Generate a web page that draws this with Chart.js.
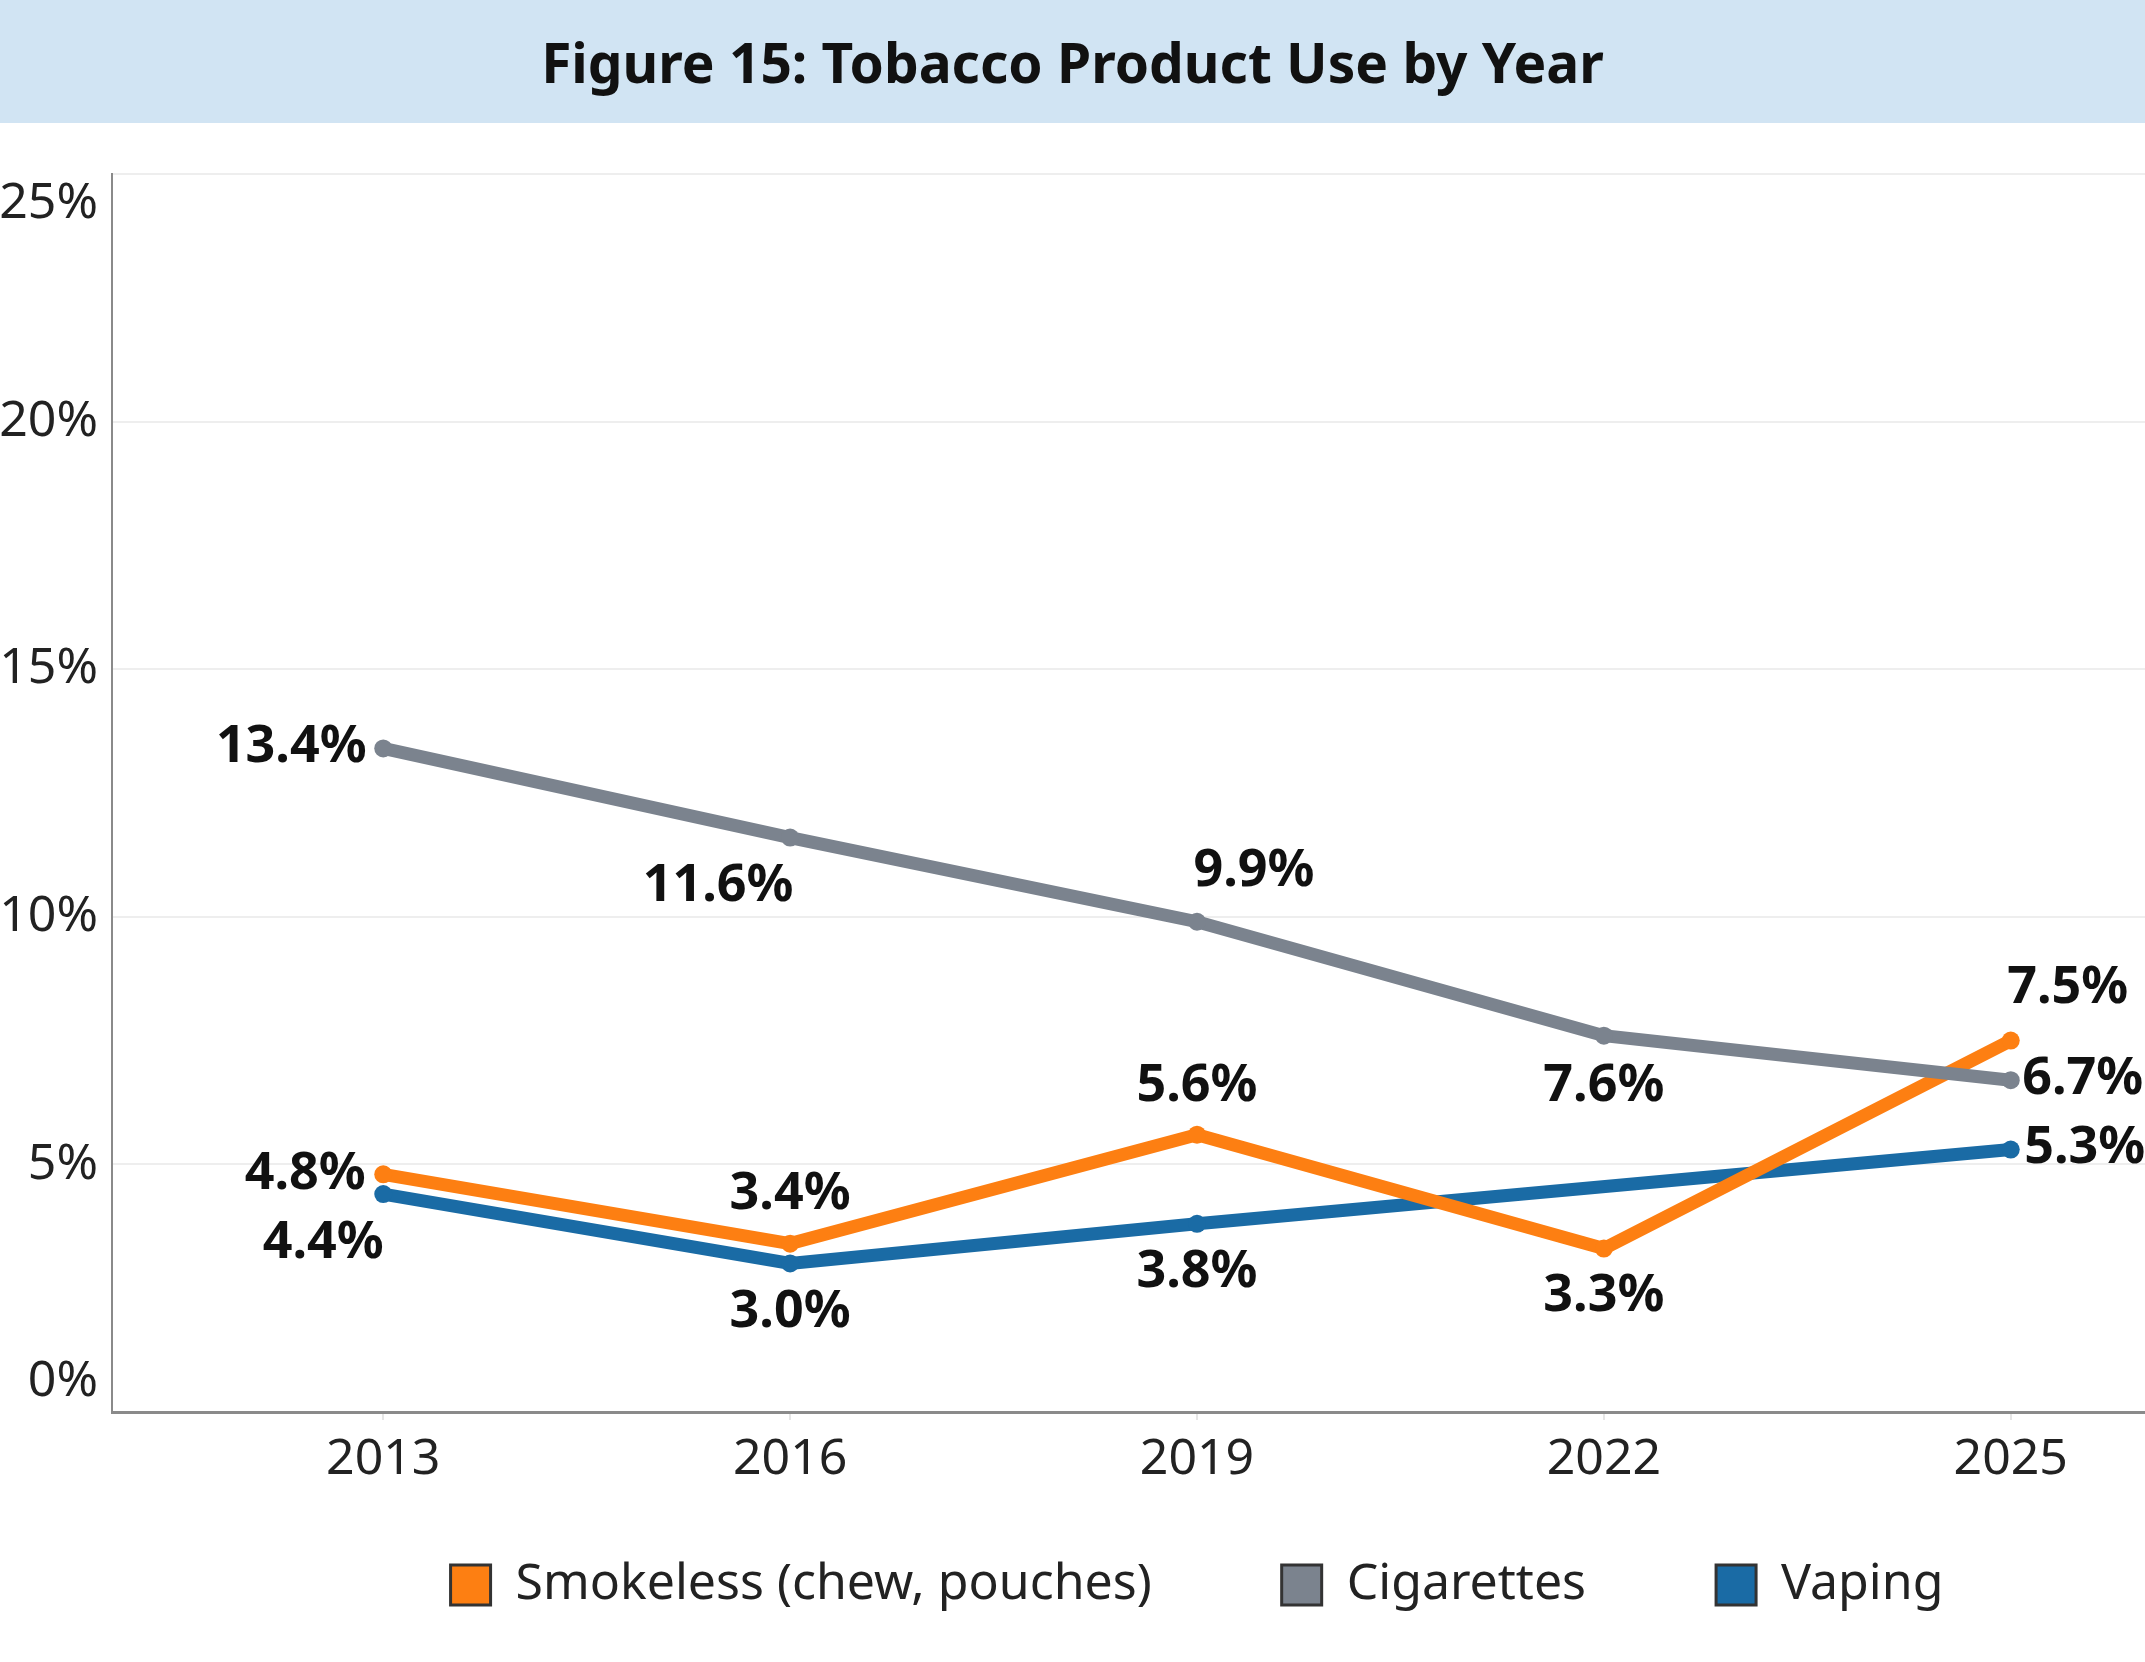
<!DOCTYPE html>
<html>
<head>
<meta charset="utf-8">
<title>Figure 15: Tobacco Product Use by Year</title>
<script src="https://cdn.jsdelivr.net/npm/chart.js@4.4.0/dist/chart.umd.min.js"></script>
<style>
  html, body { margin: 0; padding: 0; background: #fff; overflow: hidden; width: 2145px; height: 1662px; }
  .title-band {
    position: relative; z-index: 0;
    height: 123px; background: #d1e4f3;
    display: flex; align-items: center; justify-content: center;
    font-family: 'Noto Sans', sans-serif; font-weight: bold; font-size: 55px; color: #111;
  }
  /* chart is wider than the window; the right side is cropped like the original.
     It tucks a little under the title band: the top of that strip is empty canvas. */
  .chart-wrap { position: relative; z-index: 1; width: 2300px; height: 1562px; margin-top: -23px; }
</style>
</head>
<body>
<div class="title-band">Figure 15: Tobacco Product Use by Year</div>
<div class="chart-wrap"><canvas id="chart"></canvas></div>
<script>
const years = [2013, 2016, 2019, 2022, 2025];
const smokeless = [4.8, 3.4, 5.6, 3.3, 7.5];
const cigarettes = [13.4, 11.6, 9.9, 7.6, 6.7];
const vaping = [4.4, 3.0, 3.8, null, 5.3];
const yTicks = [0, 5, 10, 15, 20, 25];
const seriesNames = ['Smokeless (chew, pouches)', 'Cigarettes', 'Vaping'];

const colors = ['#fd7f12', '#7b838e', '#1a6ba5'];
// where each value label sits relative to its point (px)
const labelOffsets = [
  [[-78, 0], [0, -49], [0, -49], [0, 48], [57, -52]],
  [[-92, -1], [-72, 49], [57, -51], [0, 51], [72, -1]],
  [[-60, 49], [0, 49], [0, 48], null, [74, -1]],
];

const toPoints = vals => years.map((yr, i) => ({ x: yr, y: vals[i] }));

const valueLabels = {
  id: 'valueLabels',
  afterDatasetsDraw(chart) {
    const ctx = chart.ctx;
    ctx.save();
    ctx.font = 'bold 52px "Noto Sans"';
    ctx.fillStyle = '#111';
    ctx.textAlign = 'center';
    ctx.textBaseline = 'middle';
    chart.data.datasets.forEach((ds, di) => {
      const meta = chart.getDatasetMeta(di);
      meta.data.forEach((pt, i) => {
        const v = ds.data[i].y;
        const off = labelOffsets[di][i];
        if (v == null || !off) return;
        ctx.fillText(v.toFixed(1) + '%', pt.x + off[0], pt.y + off[1]);
      });
    });
    ctx.restore();
  }
};

// x axis is squeezed so the legend sits close; give its labels room to draw again
const xLabelRoom = {
  id: 'xLabelRoom',
  afterLayout(chart) {
    const x = chart.scales.x;
    x.bottom = x.top + 90;
  }
};

const makeDataset = (name, vals, i, order) => ({
  label: name,
  data: toPoints(vals),
  borderColor: colors[i],
  backgroundColor: colors[i],
  borderWidth: 13,
  pointRadius: 9,
  pointBorderWidth: 0,
  pointBackgroundColor: colors[i],
  spanGaps: true,
  fill: false,
  order: order,
});

const yMin = yTicks[0];
const yMax = yTicks[yTicks.length - 1];

new Chart(document.getElementById('chart'), {
  type: 'line',
  data: {
    datasets: [
      makeDataset(seriesNames[0], smokeless, 0, 1),
      makeDataset(seriesNames[1], cigarettes, 1, 0),
      makeDataset(seriesNames[2], vaping, 2, 2),
    ],
  },
  options: {
    responsive: true,
    maintainAspectRatio: false,
    animation: false,
    layout: { padding: { top: 0, right: 18, bottom: 42, left: 0 } },
    plugins: {
      tooltip: { enabled: false },
      legend: {
        position: 'bottom',
        fullSize: false,
        labels: {
          boxWidth: 40,
          boxHeight: 40,
          padding: 130,
          color: '#222',
          font: { family: 'Noto Sans', size: 50 },
          generateLabels(chart) {
            const items = Chart.defaults.plugins.legend.labels.generateLabels(chart);
            items.forEach(it => { it.strokeStyle = '#333'; it.lineWidth = 3; });
            return items.sort((a, b) => a.datasetIndex - b.datasetIndex);
          },
        },
      },
    },
    scales: {
      x: {
        type: 'linear',
        min: 2011,
        max: 2027,
        afterBuildTicks(scale) { scale.ticks = years.map(v => ({ value: v })); },
        afterFit(scale) { scale.height = 18; },
        grid: { drawOnChartArea: false, drawTicks: true, tickLength: 8, color: '#e6e6e6', lineWidth: 2 },
        border: { color: '#8a8a8a', width: 3 },
        ticks: {
          padding: 10,
          color: '#222',
          font: { family: 'Noto Sans', size: 50 },
          callback: v => String(v),
        },
      },
      y: {
        min: yMin,
        max: yMax,
        afterBuildTicks(scale) { scale.ticks = yTicks.map(v => ({ value: v })); },
        afterFit(scale) { scale.width = 112; },
        grid: { color: '#eeeeee', lineWidth: 2, drawTicks: false },
        border: { color: '#8a8a8a', width: 2 },
        ticks: {
          padding: 14,
          color: '#222',
          font: { family: 'Noto Sans', size: 50 },
          // end labels are nudged inward, as in the original
          callback: v => v === yMax ? ['', v + '%'] : v === yMin ? [v + '%', ''] : v + '%',
        },
      },
    },
  },
  plugins: [valueLabels, xLabelRoom],
});
</script>
</body>
</html>
